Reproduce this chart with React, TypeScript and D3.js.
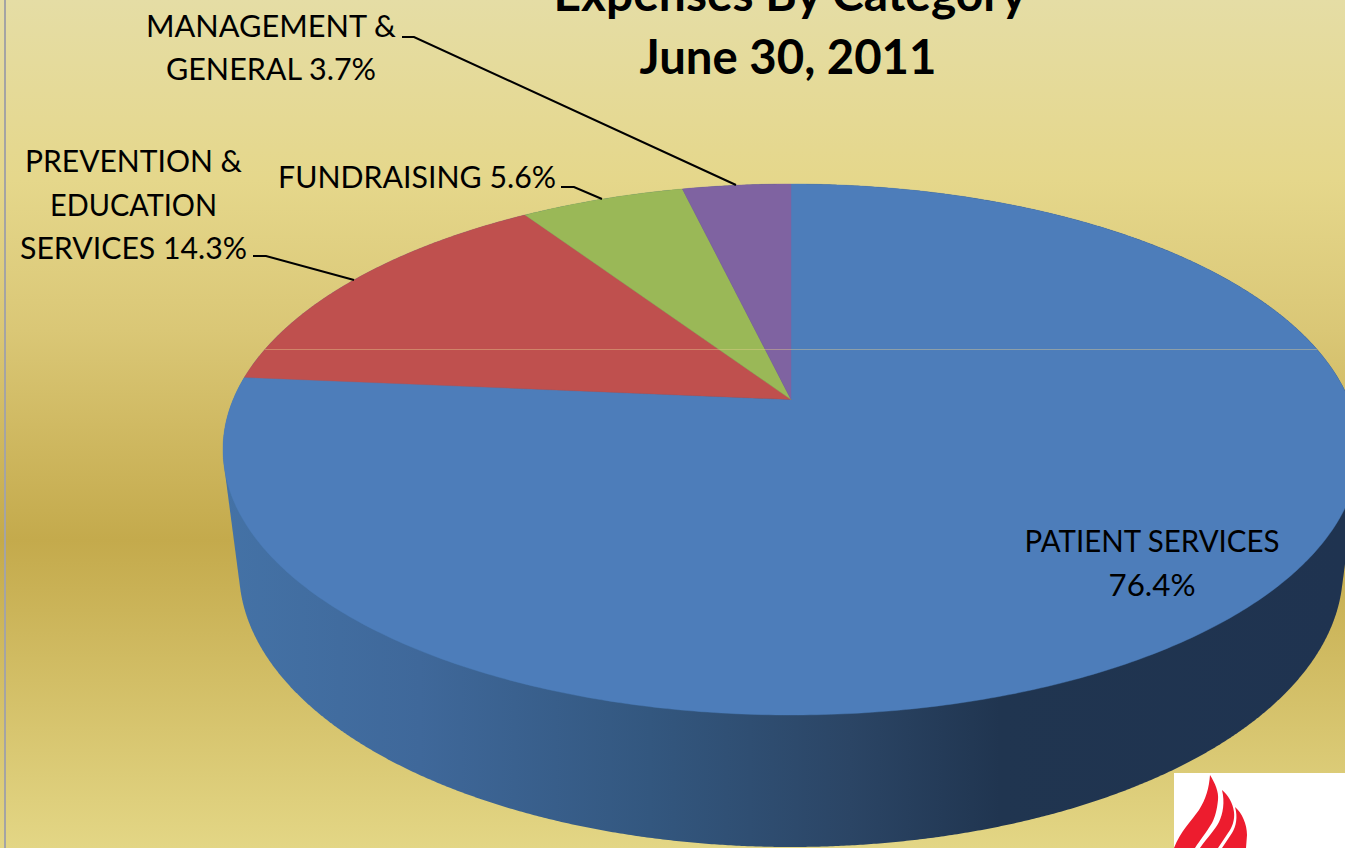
import React from "react";
import * as d3 from "d3";

const W = 1345, H = 848;

const categories = ["PATIENT SERVICES", "PREVENTION & EDUCATION SERVICES", "FUNDRAISING", "MANAGEMENT & GENERAL"];
const values = [76.4, 14.3, 5.6, 3.7];
const sliceColors = ["#4d7dba", "#bf504e", "#9ab857", "#7f63a1"];

const titleLines: [string, number, number, number][] = [
  ["Expenses By Category", 790, 11, 473],
  ["June 30, 2011", 788, 74, 297],
];

// perspective projection of the pie disc on to the top ellipse
const cx = 791, cy = 449.5, rx = 568, ry = 265.5;
const apexShift = 50 / ry;
const lowCy = 570, lowRx = 552, lowRy = 277;

const project = (theta: number, r = 1): [number, number] => {
  const x = r * Math.sin(theta), y = r * Math.cos(theta);
  const den = 1 + apexShift * y;
  const u = (x * Math.sqrt(1 - apexShift * apexShift)) / den;
  const v = (y + apexShift) / den;
  return [cx + u * rx, cy - v * ry];
};

const pie = d3.pie<number>().sort(null).startAngle(0).endAngle(2 * Math.PI);
const slices = pie(values);
const line = d3.line();

const slicePath = (a0: number, a1: number) => {
  const n = Math.max(4, Math.ceil((a1 - a0) / 0.01));
  const rim = d3.range(n + 1).map((i) => project(a0 + ((a1 - a0) * i) / n));
  return line([project(0, 0), ...rim]) + "Z";
};

const full = d3.range(0, 2 * Math.PI, 0.005);
const topRim = full.map((t) => [cx + rx * Math.cos(t), cy + ry * Math.sin(t)] as [number, number]);
const lowRim = full.map((t) => [cx + lowRx * Math.cos(t), lowCy + lowRy * Math.sin(t)] as [number, number]);
const sideHull = d3.polygonHull([...topRim, ...lowRim]) as [number, number][];

const bgStops: [number, string][] = [[0, "#e5dda5"], [180, "#e5d78b"], [330, "#dac776"], [540, "#c4aa4c"], [848, "#e3d685"]];
const sideStops: [number, string][] = [[222, "#4472a6"], [420, "#3f689a"], [650, "#33577f"], [850, "#2b4565"], [1000, "#203550"], [1345, "#1f3350"]];

// text, centre x, baseline y, width
const labelLines: [string, number, number, number][] = [
  ["MANAGEMENT &", 271, 37, 250],
  ["GENERAL 3.7%", 271, 80, 210],
  ["PREVENTION &", 133.5, 172, 217],
  ["EDUCATION", 133.5, 216, 167],
  ["SERVICES 14.3%", 133.5, 259, 227],
  ["FUNDRAISING 5.6%", 417, 188, 278],
  ["PATIENT SERVICES", 1152, 552, 255],
  ["76.4%", 1152, 596, 87],
];

const leaders: [number, number][][] = [
  [[402, 37], [414, 37], [736, 185]],
  [[561, 187], [574, 187], [602, 199]],
  [[253, 256], [266, 256], [354, 280]],
];

const font = "Lato, 'Open Sans', sans-serif";

export default function App() {
  return (
    <svg width={W} height={H} viewBox={`0 0 ${W} ${H}`} style={{ position: "fixed", left: 0, top: 0, display: "block" }}>
      <defs>
        <linearGradient id="bg" gradientUnits="userSpaceOnUse" x1={0} y1={0} x2={0} y2={H}>
          {bgStops.map(([y, c]) => <stop key={y} offset={y / H} stopColor={c} />)}
        </linearGradient>
        <linearGradient id="side" gradientUnits="userSpaceOnUse" x1={0} y1={0} x2={W} y2={0}>
          {sideStops.map(([x, c]) => <stop key={x} offset={x / W} stopColor={c} />)}
        </linearGradient>
        <clipPath id="topClip">
          <ellipse cx={cx} cy={cy} rx={rx} ry={ry} />
        </clipPath>
      </defs>
      <rect x={0} y={0} width={W} height={H} fill="url(#bg)" />
      <rect x={4} y={0} width={2} height={H} fill="#a4a4a4" />

      <path d={line(sideHull) + "Z"} fill="url(#side)" />
      {slices.map((s, i) => (
        <path key={categories[i]} d={slicePath(s.startAngle, s.endAngle)} fill={sliceColors[i]} stroke={sliceColors[i]} strokeWidth={0.4} />
      ))}
      <rect x={0} y={349} width={W} height={1} fill="#e8d090" opacity={0.42} clipPath="url(#topClip)" />

      {leaders.map((p, i) => (
        <path key={i} d={line(p) as string} fill="none" stroke="#000" strokeWidth={2} />
      ))}

      {labelLines.map(([t, x, y, w]) => (
        <text key={t} x={x} y={y} textAnchor="middle" fontFamily={font} fontSize={31} fill="#000" textLength={w} lengthAdjust="spacingAndGlyphs">{t}</text>
      ))}

      {titleLines.map(([t, x, y, w]) => (
        <text key={t} x={x} y={y} textAnchor="middle" fontFamily={font} fontSize={48} fontWeight={700} fill="#000" textLength={w} lengthAdjust="spacingAndGlyphs">{t}</text>
      ))}

      <rect x={1174} y={773} width={171} height={75} fill="#fff" />
      <g fill="#ed1c2e">
        <path d="M1210,775 C1215,783 1219,792 1218,800 C1217,810 1215,817 1212,823 C1206,833 1200,840 1195,848 L1174,848 C1180,832 1192,820 1199,810 C1206,799 1209,788 1210,775Z" />
        <path d="M1222,790 C1228,795 1233,803 1234,812 C1235,820 1232,828 1228,833 L1218,848 L1200,848 C1207,838 1215,830 1219,822 C1223,814 1225,802 1222,790Z" />
        <path d="M1235,807 C1242,813 1247,824 1247,835 L1246,848 L1222,848 L1232,833 C1236,827 1238,817 1235,807Z" />
      </g>
    </svg>
  );
}
